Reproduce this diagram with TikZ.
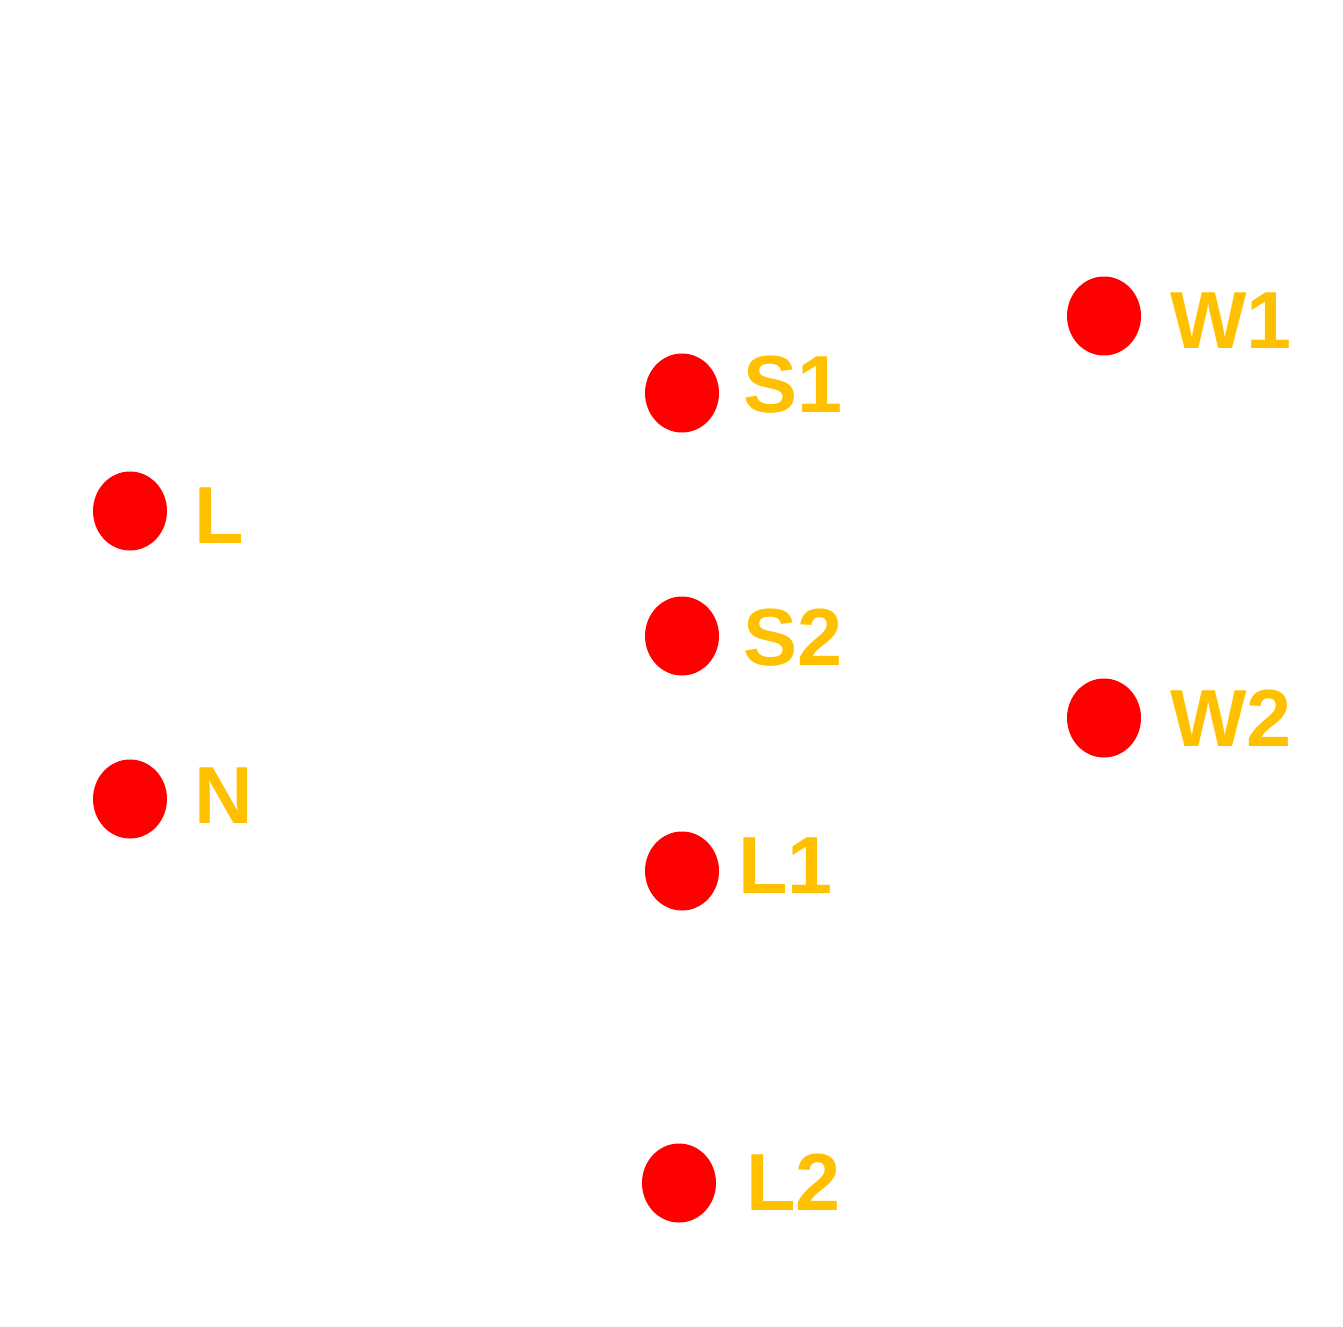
\documentclass[tikz,border=0pt]{standalone}
\usepackage{fontspec}
\setmainfont{Liberation Sans}
\definecolor{dotred}{HTML}{FF0000}
\definecolor{labgold}{HTML}{FFC000}
\tikzset{
  terminal/.style={ellipse, fill=dotred, draw=none, minimum width=74pt, minimum height=79pt, inner sep=0pt},
  termlabel/.style={anchor=base west, inner sep=0pt, text=labgold, font=\fontsize{81}{90}\selectfont\bfseries}
}
\usetikzlibrary{shapes.geometric}
\begin{document}
\begin{tikzpicture}[x=1pt,y=-1pt]
\useasboundingbox (0,0) rectangle (1343,1326);
\node[terminal] (dW1) at (1104,316) {};
\node[terminal] (dS1) at (682,393) {};
\node[terminal] (dL) at (130,511) {};
\node[terminal] (dS2) at (682,636) {};
\node[terminal] (dW2) at (1104,718) {};
\node[terminal] (dN) at (130,799) {};
\node[terminal] (dL1) at (682,871) {};
\node[terminal] (dL2) at (679,1183) {};
\node[termlabel] (tW1) at (1170,348) {W1};
\node[termlabel] (tS1) at (743,412) {S1};
\node[termlabel] (tL) at (194,543) {L};
\node[termlabel] (tS2) at (743,665) {S2};
\node[termlabel] (tW2) at (1170,746) {W2};
\node[termlabel] (tN) at (194,823) {N};
\node[termlabel] (tL1) at (738,893) {L1};
\node[termlabel] (tL2) at (746,1210) {L2};
\end{tikzpicture}
\end{document}
